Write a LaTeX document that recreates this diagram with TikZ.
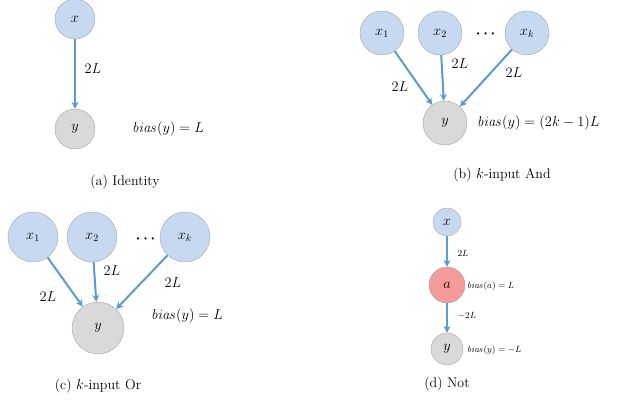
\documentclass[tikz,border=0pt]{standalone}
\usepackage{amsmath,amssymb,bm}
\usetikzlibrary{arrows.meta}
\begin{document}
\begin{tikzpicture}[x=1pt,y=-1pt,
  every node/.style={font=\fontsize{14}{16}\selectfont},
  inb/.style={circle,draw=gray!70,fill={rgb,255:red,198;green,217;blue,240},inner sep=0pt},
  outg/.style={circle,draw=gray!70,fill={rgb,255:red,217;green,217;blue,217},inner sep=0pt},
  redc/.style={circle,draw=gray!70,fill={rgb,255:red,244;green,154;blue,154},inner sep=0pt},
  arr/.style={-{Stealth[length=7pt,width=7pt]},draw={rgb,255:red,91;green,155;blue,213},line width=2pt},
  lab/.style={inner sep=1pt}]
\useasboundingbox (0,0) rectangle (640,400);
% (a)
\node[inb,minimum size=40pt] (ax) at (75,19) {$x$};
\node[outg,minimum size=40pt] (ay) at (75,129) {$y$};
\draw[arr] (ax) -- (ay);
\node[lab] (al) at (93,69) {$2L$};
\node[lab,anchor=west] (ab) at (131,129) {$\mathit{bias}(y)=L$};
\node (ac) at (125,182) {(a) Identity};
% (b)
\node[inb,minimum size=44pt] (bx1) at (382,33) {$x_1$};
\node[inb,minimum size=44pt] (bx2) at (440,33) {$x_2$};
\node (bd) at (487,34) {\Large$\bm{\cdots}$};
\node[inb,minimum size=44pt] (bxk) at (527,33) {$x_k$};
\node[outg,minimum size=44pt] (by) at (445,123) {$y$};
\draw[arr] (bx1) -- (by);
\draw[arr] (bx2) -- (by);
\draw[arr] (bxk) -- (by);
\node[lab] (bl1) at (400,87) {$2L$};
\node[lab] (bl2) at (460,64) {$2L$};
\node[lab] (bl3) at (514,73) {$2L$};
\node[lab,anchor=west] (bb) at (476,123) {$\mathit{bias}(y)=(2k-1)L$};
\node (bc) at (502,175) {(b) $k$-input And};
% (c)
\node[inb,minimum size=50pt] (cx1) at (33,237) {\Large$x_1$};
\node[inb,minimum size=50pt] (cx2) at (92,237) {\Large$x_2$};
\node (cd) at (147,239) {\Large$\bm{\cdots}$};
\node[inb,minimum size=50pt] (cxk) at (185,237) {\Large$x_k$};
\node[outg,minimum size=52pt] (cy) at (98,328) {\Large$y$};
\draw[arr] (cx1) -- (cy);
\draw[arr] (cx2) -- (cy);
\draw[arr] (cxk) -- (cy);
\node[lab] (cl1) at (48,297) {\Large$2L$};
\node[lab] (cl2) at (112,271) {\Large$2L$};
\node[lab] (cl3) at (173,283) {\Large$2L$};
\node[lab,anchor=west] (cb) at (150,316) {\Large$\mathit{bias}(y)=L$};
\node (cc) at (98,386) {(c) $k$-input Or};
% (d)
\node[inb,minimum size=28pt] (dx) at (447,222) {$x$};
\node[redc,minimum size=36pt] (da) at (447,285) {$a$};
\node[outg,minimum size=32pt] (dy) at (447,349) {$y$};
\draw[arr] (dx) -- (da);
\draw[arr] (da) -- (dy);
\node[lab] (dl1) at (463,253) {\small$2L$};
\node[lab] (dl2) at (467,316) {\small$-2L$};
\node[lab,anchor=west] (dba) at (466,286) {\small$\mathit{bias}(a)=L$};
\node[lab,anchor=west] (dby) at (466,350) {\small$\mathit{bias}(y)=-L$};
\node (dc) at (447,384) {(d) Not};
\end{tikzpicture}
\end{document}
